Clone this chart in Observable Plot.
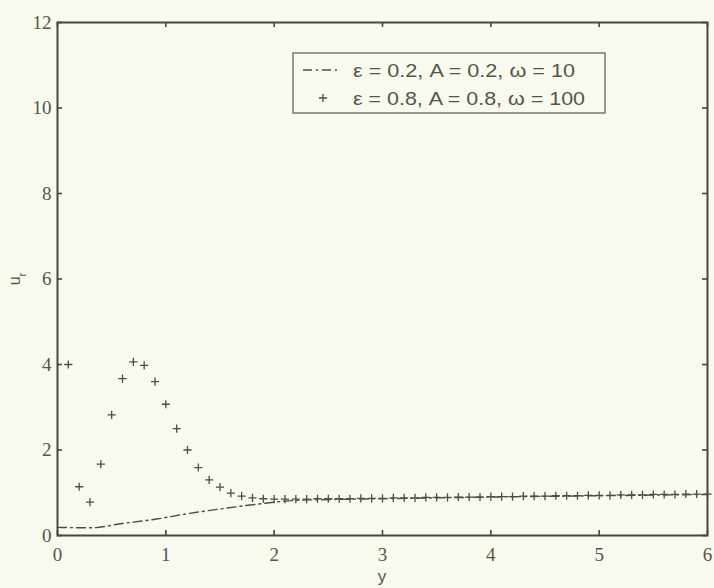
<!DOCTYPE html>
<html>
<head>
<meta charset="utf-8">
<script src="https://cdn.jsdelivr.net/npm/d3@7"></script>
<script src="https://cdn.jsdelivr.net/npm/@observablehq/plot@0.6"></script>
<style>
  html, body { margin: 0; padding: 0; background: #f9faee; }
</style>
</head>
<body>
<div id="chart"></div>
<script>
// ---- data ----
const xTicks = [0, 1, 2, 3, 4, 5, 6];
const yTicks = [0, 2, 4, 6, 8, 10, 12];

// series 1: eps = 0.2, A = 0.2, omega = 10 (dash-dot line)
const lineX = [0, 0.3, 0.6, 0.9, 1.2, 1.5, 1.8, 2.0, 2.2, 2.5, 3.0, 4.0, 5.0, 6.0];
const lineY = [0.19, 0.18, 0.28, 0.38, 0.51, 0.62, 0.72, 0.78, 0.82, 0.84, 0.86, 0.90, 0.93, 0.96];

// series 2: eps = 0.8, A = 0.8, omega = 100 (plus markers)
const plusX = [0.1, 0.2, 0.3, 0.4, 0.5, 0.6, 0.7, 0.8, 0.9, 1.0,
               1.1, 1.2, 1.3, 1.4, 1.5, 1.6, 1.7, 1.8, 1.9, 2.0,
               2.1, 2.2, 2.3, 2.4, 2.5, 2.6, 2.7, 2.8, 2.9, 3.0,
               3.1, 3.2, 3.3, 3.4, 3.5, 3.6, 3.7, 3.8, 3.9, 4.0,
               4.1, 4.2, 4.3, 4.4, 4.5, 4.6, 4.7, 4.8, 4.9, 5.0,
               5.1, 5.2, 5.3, 5.4, 5.5, 5.6, 5.7, 5.8, 5.9, 6.0];
const plusY = [4.00, 1.14, 0.78, 1.67, 2.82, 3.67, 4.06, 3.98, 3.60, 3.07,
               2.50, 2.00, 1.59, 1.30, 1.13, 0.99, 0.92, 0.88, 0.86, 0.85,
               0.85, 0.85, 0.85, 0.86, 0.86, 0.86, 0.86, 0.87, 0.87, 0.87,
               0.88, 0.88, 0.88, 0.89, 0.89, 0.89, 0.90, 0.90, 0.90, 0.91,
               0.91, 0.91, 0.92, 0.92, 0.92, 0.93, 0.93, 0.93, 0.94, 0.94,
               0.94, 0.95, 0.95, 0.95, 0.96, 0.96, 0.96, 0.97, 0.97, 0.97];

const legendLabels = ["\u03b5 = 0.2, A = 0.2, \u03c9 = 10", "\u03b5 = 0.8, A = 0.8, \u03c9 = 100"];
const xLabel = "y";
const yLabel = "u";
const yLabelSub = "r";

// ---- styles ----
const bg = "#f9faee";
const axisColor = "#47463f";
const textColor = "#55544c";
const markColor = "#4d4c45";
const dashPattern = "9,4,2,4";
const plusR = 2.75;

const lineData = lineX.map((x, i) => ({x, y: lineY[i]}));
const plusData = plusX.map((x, i) => ({x, y: plusY[i]}));

const W = 714, H = 588, mL = 57, mR = 7, mT = 22, mB = 53;
const innerW = W - mL - mR, innerH = H - mT - mB;
const tickLen = 5;

const chart = Plot.plot({
  width: W, height: H,
  marginLeft: mL, marginRight: mR, marginTop: mT, marginBottom: mB,
  style: {background: bg, color: textColor, fontFamily: "'Liberation Serif', serif", fontSize: "19px", overflow: "visible"},
  x: {domain: [0, 6], label: null},
  y: {domain: [0, 12], label: null},
  marks: [
    Plot.line(lineData, {x: "x", y: "y", curve: "monotone-x", stroke: markColor, strokeWidth: 1.4, strokeDasharray: dashPattern}),
    Plot.dot(plusData, {x: "x", y: "y", symbol: "plus", r: plusR, stroke: markColor, strokeWidth: 1.3}),
    // inward ticks on all four sides
    Plot.ruleX(xTicks, {x: d => d, stroke: axisColor, strokeWidth: 1.6, insetTop: innerH - tickLen}),
    Plot.ruleX(xTicks, {x: d => d, stroke: axisColor, strokeWidth: 1.6, insetBottom: innerH - tickLen}),
    Plot.ruleY(yTicks, {y: d => d, stroke: axisColor, strokeWidth: 1.6, insetRight: innerW - tickLen}),
    Plot.ruleY(yTicks, {y: d => d, stroke: axisColor, strokeWidth: 1.6, insetLeft: innerW - tickLen}),
    Plot.axisX(xTicks, {anchor: "bottom", tickSize: 0, tickPadding: 12, label: null, fill: textColor}),
    Plot.axisY(yTicks, {anchor: "left", tickSize: 0, tickPadding: 6, label: null, fill: textColor}),
    Plot.frame({stroke: axisColor, strokeWidth: 2})
  ]
});

document.getElementById("chart").appendChild(chart);

// ---- labels and legend drawn into the same SVG ----
const svg = d3.select(chart);

svg.append("text")
  .attr("x", mL + innerW / 2).attr("y", 582)
  .attr("text-anchor", "middle")
  .attr("font-family", "'Liberation Sans', sans-serif")
  .attr("font-size", 17)
  .attr("fill", textColor)
  .text(xLabel);

const yl = svg.append("text")
  .attr("transform", "translate(20,279) rotate(-90)")
  .attr("text-anchor", "middle")
  .attr("font-family", "'Liberation Sans', sans-serif")
  .attr("font-size", 16)
  .attr("fill", textColor);
yl.append("tspan").text(yLabel);
yl.append("tspan").attr("baseline-shift", "sub").attr("font-size", 11).text(yLabelSub);

const lg = svg.append("g");
lg.append("rect")
  .attr("x", 293).attr("y", 53).attr("width", 312).attr("height", 60)
  .attr("fill", bg).attr("stroke", "#66655e").attr("stroke-width", 1.3);
lg.append("path")
  .attr("d", "M303,70H341")
  .attr("stroke", markColor).attr("stroke-width", 1.4)
  .attr("stroke-dasharray", dashPattern).attr("fill", "none");
lg.append("path")
  .attr("transform", "translate(323,98)")
  .attr("d", d3.symbol(d3.symbolPlus, Math.PI * plusR * plusR)())
  .attr("stroke", markColor).attr("stroke-width", 1.3).attr("fill", "none");
const tlen = [222, 232];
legendLabels.forEach((t, i) => {
  lg.append("text")
    .attr("x", 353).attr("y", 70 + i * 28)
    .attr("dy", "0.36em")
    .attr("text-anchor", "start")
    .attr("font-family", "'Liberation Sans', sans-serif")
    .attr("font-size", 19)
    .attr("fill", textColor)
    .attr("textLength", tlen[i])
    .attr("lengthAdjust", "spacingAndGlyphs")
    .text(t);
});
</script>
</body>
</html>
